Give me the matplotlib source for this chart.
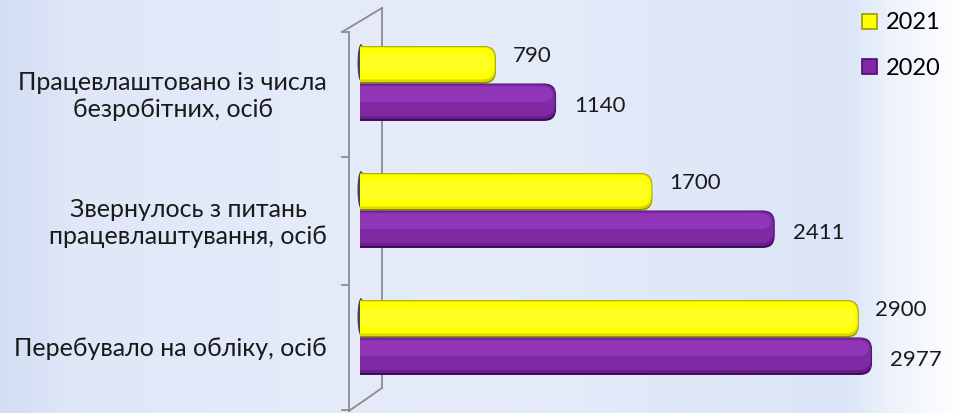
import numpy as np
import matplotlib
matplotlib.use("Agg")
import matplotlib.pyplot as plt
from matplotlib.patches import FancyBboxPatch, Patch, Ellipse
from matplotlib.lines import Line2D
from matplotlib.colors import LinearSegmentedColormap

categories = ["Працевлаштовано із числа\nбезробітних, осіб",
              "Звернулось з питань\nпрацевлаштування, осіб",
              "Перебувало на обліку, осіб"]
series_names = ["2021", "2020"]
values_2021 = [790, 1700, 2900]
values_2020 = [1140, 2411, 2977]

W, H = 963, 413
plt.rcParams['font.family'] = ['Lato', 'DejaVu Sans']
fig = plt.figure(figsize=(W / 100, H / 100), dpi=100)

# background gradient
bg = fig.add_axes([0, 0, 1, 1], zorder=-10)
bg.axis('off')
cmap = LinearSegmentedColormap.from_list('bg', [(0.0, '#d3def4'), (0.08, '#e0e8f8'),
                                                (0.5, '#e6ecf9'), (0.88, '#dbe5f7'),
                                                (0.93, '#eef3fc'), (1.0, '#ffffff')])
grad = np.linspace(0, 1, 400).reshape(1, -1)
bg.imshow(grad, aspect='auto', cmap=cmap, extent=[0, 1, 0, 1])
bg.set_xlim(0, 1); bg.set_ylim(0, 1)

def px(x, y):
    return x / W, 1 - y / H

# axes area in pixels
left, right, top, bottom = 360, 962, 20, 401
ax = fig.add_axes([left / W, 1 - bottom / H, (right - left) / W, (bottom - top) / H], zorder=2)
ax.patch.set_alpha(0)
xmax = 3500
ax.set_xlim(0, xmax)
ax.set_ylim(len(categories), 0)
ax.axis('off')

# wall lines (3D back/side)
wall_color = '#8c8c8c'
for (x1, y1), (x2, y2) in [((349, 32), (349, 411)), ((382, 8), (382, 388)),
                           ((342, 32), (382, 8)), ((349, 411), (382, 388))]:
    a, b = px(x1, y1), px(x2, y2)
    fig.add_artist(Line2D([a[0], b[0]], [a[1], b[1]], color=wall_color, lw=1.3, zorder=1))
for ty in [32, 157, 285, 410]:
    a, b = px(342, ty), px(349, ty)
    fig.add_artist(Line2D([a[0], b[0]], [a[1], b[1]], color=wall_color, lw=1.3, zorder=1))

xu = xmax / (right - left)          # data units per pixel, x
yu = len(categories) / (bottom - top)  # data units per pixel, y
aspect = yu / xu
bar_h = 0.295

def rounded_bar(x_end, y0, h, layers):
    r = 12 * xu
    start = -40 * xu
    for (dy0, dy1, dx, color, alpha) in layers:
        ax.add_patch(FancyBboxPatch((start, y0 + dy0 * yu), x_end - start - dx * xu,
                                    h - (dy0 + dy1) * yu,
                                    boxstyle=f"round,pad=0,rounding_size={r - dx * xu * 0.5}",
                                    mutation_aspect=aspect, fc=color, ec='none',
                                    alpha=alpha, zorder=3))

yellow_layers = [(0, 0, 0, '#8f8f00', 1.0),
                 (0.5, 1.5, 0.5, '#d8d800', 1.0),
                 (1.5, 4, 1.5, '#ffff00', 1.0),
                 (8, 10, 4, '#ffff60', 0.35)]
purple_layers = [(0, 0, 0, '#3e0a58', 1.0),
                 (0.5, 2, 0.5, '#6a1d8e', 1.0),
                 (1.5, 5, 1.5, '#7f2aa3', 1.0),
                 (3, 19, 3, '#9538bc', 0.9)]

for i, (v21, v20) in enumerate(zip(values_2021, values_2020)):
    c = i + 0.5
    # dark shadow at the left end of the yellow bar
    ax.add_patch(Ellipse((1 * xu, c - bar_h * 0.55), 7 * xu, bar_h * 1.0, fc='black',
                         ec='none', alpha=0.7, zorder=2, clip_on=False))
    rounded_bar(v21, c - bar_h, bar_h, yellow_layers)
    rounded_bar(v20, c, bar_h, purple_layers)
    ax.annotate(f"{v21}", (v21, c - bar_h / 2), xytext=(12, 6), textcoords='offset points',
                ha='left', va='center', fontsize=16, color='#1a1a1a', zorder=6,
                annotation_clip=False)
    ax.annotate(f"{v20}", (v20, c + bar_h / 2), xytext=(13, -3), textcoords='offset points',
                ha='left', va='center', fontsize=16, color='#1a1a1a', zorder=6,
                annotation_clip=False)

# category labels
label_y = [96, 223, 348]
for lab, yy in zip(categories, label_y):
    x, y = px(327, yy)
    fig.text(x, y, lab, ha='right', va='center', multialignment='center',
             fontsize=18, color='#1a1a1a', linespacing=1.2)

# legend
handles = [Patch(fc='#ffff00', ec='#9a9a00', lw=1.2), Patch(fc='#8028a8', ec='#4a0f68', lw=1.2)]
fig.legend(handles, series_names, loc='upper left', bbox_to_anchor=(853 / W, 1 - 3 / H),
           frameon=False, fontsize=17, handlelength=0.6, handleheight=0.6,
           handletextpad=0.4, labelspacing=1.05, borderaxespad=0)

fig.savefig('out.png', dpi=100)
